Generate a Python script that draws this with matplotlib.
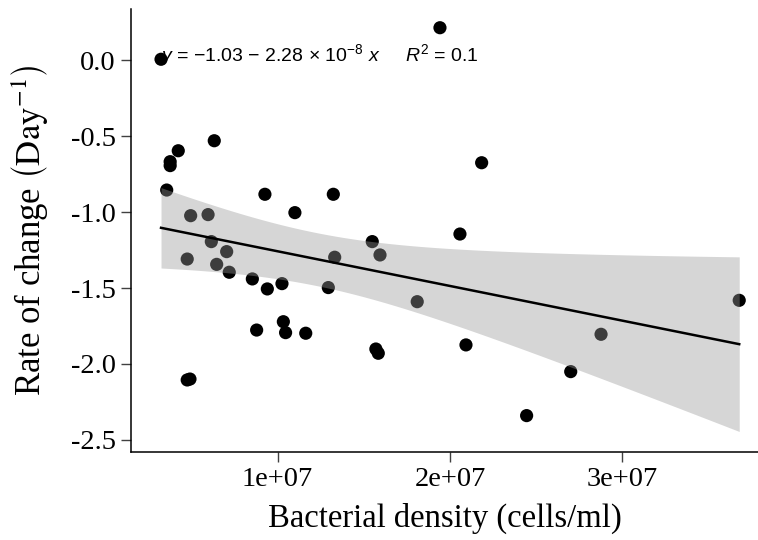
import numpy as np
import matplotlib
matplotlib.use("Agg")
import matplotlib.pyplot as plt

plt.rcParams['mathtext.fontset'] = 'custom'
plt.rcParams['mathtext.rm'] = 'Liberation Sans'
plt.rcParams['mathtext.it'] = 'Liberation Sans:italic'

# bacterial density (cells/ml) and rate of change (per day)
density = np.array([
    0.323, 1.942, 0.423, 0.376, 0.376, 0.632, 0.356, 0.495, 0.596, 0.926,
    1.100, 1.323, 2.184, 2.058, 0.475, 0.615, 0.704, 0.646, 0.719, 0.853,
    0.940, 1.025, 1.294, 1.331, 1.549, 1.594, 1.810, 1.033, 0.878, 1.046,
    1.163, 1.570, 1.584, 2.093, 0.475, 0.491, 3.679, 2.877, 2.701, 2.445,
]) * 1e7
rate = np.array([
    0.008, 0.216, -0.595, -0.667, -0.693, -0.529, -0.854, -1.023, -1.016, -0.882,
    -1.003, -0.882, -0.674, -1.144, -1.309, -1.194, -1.260, -1.344, -1.396, -1.440,
    -1.506, -1.471, -1.497, -1.297, -1.194, -1.282, -1.590, -1.722, -1.777, -1.794,
    -1.798, -1.902, -1.930, -1.875, -2.106, -2.100, -1.581, -1.805, -2.051, -2.341,
])

x_ticks = [1e7, 2e7, 3e7]
x_ticklabels = ['1e+07', '2e+07', '3e+07']
y_ticks = [0.0, -0.5, -1.0, -1.5, -2.0, -2.5]
eq_text = r'$y$ = $-$1.03 $-$ 2.28 $\times$ 10$^{-8}$ $x$     $R^2$ = 0.1'

# linear fit with 95% confidence band (like geom_smooth(method = "lm"))
n = len(density)
slope, intercept = np.polyfit(density, rate, 1)
xs = np.linspace(density.min(), density.max(), 200)
fit = intercept + slope * xs
resid = rate - (intercept + slope * density)
s = np.sqrt(np.sum(resid ** 2) / (n - 2))
sxx = np.sum((density - density.mean()) ** 2)
se = s * np.sqrt(1 / n + (xs - density.mean()) ** 2 / sxx)
t_crit = 2.024
lo, hi = fit - t_crit * se, fit + t_crit * se

fig = plt.figure(figsize=(7.58, 5.40), dpi=100)
ax = fig.add_axes([0.1728, 0.1635, 0.8272, 0.82])

ax.scatter(density, rate, s=90, color='black', edgecolors='none', zorder=2)
ax.fill_between(xs, lo, hi, color='0.6', alpha=0.4, linewidth=0, zorder=3)
ax.plot(xs, fit, color='black', lw=1.8, zorder=4)

ax.text(0.047, 0.896, eq_text, transform=ax.transAxes, fontsize=14,
        family='Liberation Sans', va='center', ha='left', zorder=5)

ax.set_xlim(1.486e6, 3.788e7)
ax.set_ylim(-2.579, 0.34)
ax.set_xticks(x_ticks)
ax.set_xticklabels(x_ticklabels)
ax.set_yticks(y_ticks)
ax.set_yticklabels(['%.1f' % v for v in y_ticks])

for sp in ['top', 'right']:
    ax.spines[sp].set_visible(False)
for sp in ['left', 'bottom']:
    ax.spines[sp].set_linewidth(1.1)
ax.tick_params(length=7, width=1, color='0.25', labelsize=20.5, pad=4)
for lab in ax.get_xticklabels() + ax.get_yticklabels():
    lab.set_family('Liberation Serif')

ax.set_xlabel('Bacterial density (cells/ml)', fontsize=23.5,
              family='Liberation Serif', labelpad=8)
ax.set_ylabel(r'Rate of change $\left(\mathrm{Day}^{-1}\right)$', fontsize=25,
              family='Liberation Serif', math_fontfamily='stix', labelpad=14)

fig.savefig('out.png', dpi=100)
